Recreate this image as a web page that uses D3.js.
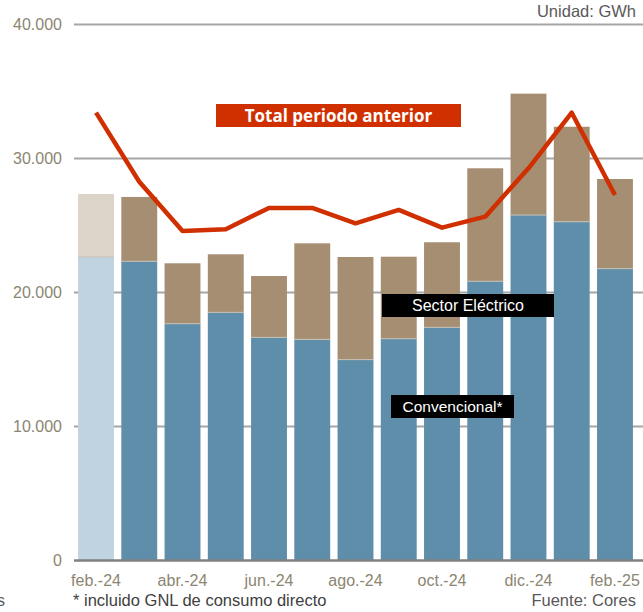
<!DOCTYPE html>
<html>
<head>
<meta charset="utf-8">
<script src="https://cdn.jsdelivr.net/npm/d3@7"></script>
<style>
  body { margin: 0; background: #fff; }
  svg { display: block; font-family: "Liberation Sans", Arial, sans-serif; }
</style>
</head>
<body>
<svg id="chart" width="643" height="612"></svg>
<script>
var months = ["feb.-24", "mar.-24", "abr.-24", "may.-24", "jun.-24", "jul.-24", "ago.-24",
  "sep.-24", "oct.-24", "nov.-24", "dic.-24", "ene.-25", "feb.-25"];
var convencional = [22650, 22330, 17670, 18520, 16650, 16500, 14990, 16550, 17400, 20840, 25780, 25280, 21780];
var total = [27350, 27130, 22180, 22850, 21230, 23670, 22650, 22670, 23750, 29270, 34840, 32370, 28470];
var totalAnterior = [33420, 28270, 24590, 24720, 26310, 26310, 25160, 26160, 24840, 25660, 29270, 33420, 27280];
var yTicks = [0, 10000, 20000, 30000, 40000];

var svg = d3.select("#chart");

var x = d3.scaleBand().domain(months).range([74.4, 636.6]).paddingInner(0.17).paddingOuter(0.085);
var y = d3.scaleLinear().domain([0, 40000]).range([560.5, 24.5]);
var fmt = function(v) { return v === 0 ? "0" : d3.format(",")(v).replace(/,/g, "."); };

// grid
svg.selectAll(".grid").data(yTicks.filter(function(d) { return d > 0; })).enter()
  .append("line")
  .attr("x1", 74).attr("x2", 643)
  .attr("y1", function(d) { return y(d); }).attr("y2", function(d) { return y(d); })
  .attr("stroke", "#a6a6a6").attr("stroke-width", 2);

svg.selectAll(".ylab").data(yTicks).enter()
  .append("text")
  .attr("x", 62).attr("y", function(d) { return y(d); })
  .attr("dy", "0.35em").attr("text-anchor", "end")
  .attr("fill", "#8c8571").style("font-size", "16px")
  .text(fmt);

// bars
var rows = months.map(function(m, i) {
  return { m: m, i: i, conv: convencional[i], tot: total[i] };
});
var g = svg.append("g");
g.selectAll(".elec").data(rows).enter().append("rect")
  .attr("x", function(d) { return x(d.m); })
  .attr("width", x.bandwidth())
  .attr("y", function(d) { return y(d.tot); })
  .attr("height", function(d) { return y(d.conv) - y(d.tot); })
  .attr("fill", function(d) { return d.i === 0 ? "#dcd3c9" : "#a68e73"; });
g.selectAll(".conv").data(rows).enter().append("rect")
  .attr("x", function(d) { return x(d.m); })
  .attr("width", x.bandwidth())
  .attr("y", function(d) { return y(d.conv); })
  .attr("height", function(d) { return y(0) - y(d.conv); })
  .attr("fill", function(d) { return d.i === 0 ? "#c0d3e0" : "#5e8ea9"; });
// thin light edges on segment tops
g.selectAll(".edge").data(rows).enter().append("line")
  .attr("x1", function(d) { return x(d.m); })
  .attr("x2", function(d) { return x(d.m) + x.bandwidth(); })
  .attr("y1", function(d) { return y(d.conv); }).attr("y2", function(d) { return y(d.conv); })
  .attr("stroke", "#c9c1b4").attr("stroke-width", 1);

// axis line
svg.append("line").attr("x1", 74).attr("x2", 643)
  .attr("y1", y(0)).attr("y2", y(0))
  .attr("stroke", "#808080").attr("stroke-width", 2.5);

svg.selectAll(".xlab").data(months.filter(function(d, i) { return i % 2 === 0; })).enter()
  .append("text")
  .attr("x", function(d) { return x(d) + x.bandwidth() / 2; })
  .attr("y", 586).attr("text-anchor", "middle")
  .attr("fill", "#8c8571").style("font-size", "16px")
  .text(function(d) { return d; });

// line
var line = d3.line()
  .x(function(d, i) { return x(months[i]) + x.bandwidth() / 2; })
  .y(function(d) { return y(d); });
svg.append("path").datum(totalAnterior)
  .attr("d", line).attr("fill", "none")
  .attr("stroke", "#d03000").attr("stroke-width", 4.5).attr("stroke-linejoin", "round");

// labels
function label(x0, y0, w, h, bg, txt, opts) {
  svg.append("rect").attr("x", x0).attr("y", y0).attr("width", w).attr("height", h).attr("fill", bg);
  svg.append("text").attr("x", x0 + w / 2).attr("y", y0 + h / 2)
    .attr("dy", "0.36em").attr("text-anchor", "middle")
    .attr("fill", "#fff").style("font-size", opts.size)
    .style("font-weight", opts.weight || "normal")
    .style("font-family", opts.family || null)
    .text(txt);
}
label(216, 104, 245, 23, "#d03000", "Total periodo anterior", { size: "17px", weight: "bold", family: "'Open Sans', sans-serif" });
label(382, 294, 172, 23, "#000", "Sector Eléctrico", { size: "16px" });
label(391, 395, 123, 23, "#000", "Convencional*", { size: "15.5px" });

svg.append("text").attr("x", 636).attr("y", 17).attr("text-anchor", "end")
  .attr("fill", "#595959").style("font-size", "16.5px").text("Unidad: GWh");
svg.append("text").attr("x", 73).attr("y", 606)
  .attr("fill", "#404040").style("font-size", "16.5px").text("* incluido GNL de consumo directo");
svg.append("text").attr("x", 636).attr("y", 606).attr("text-anchor", "end")
  .attr("fill", "#595959").style("font-size", "16.5px").text("Fuente: Cores");
svg.append("text").attr("x", -3).attr("y", 606)
  .attr("fill", "#595959").style("font-size", "16px").text("s");
</script>
</body>
</html>
